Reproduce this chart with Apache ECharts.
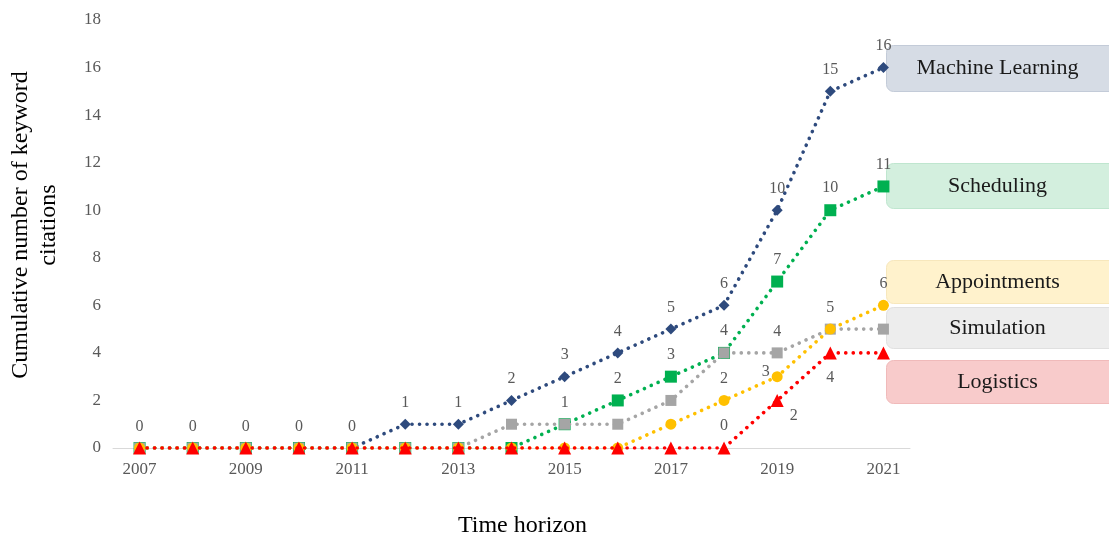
<!DOCTYPE html>
<html>
<head>
<meta charset="utf-8">
<script src="https://cdn.jsdelivr.net/npm/echarts@6/dist/echarts.min.js"></script>
<style>html,body{margin:0;padding:0;background:#fff}#c{width:1109px;height:540px}</style>
</head>
<body>
<div id="c"></div>
<script>
const years = ['2007','2008','2009','2010','2011','2012','2013','2014','2015','2016','2017','2018','2019','2020','2021'];
const machineLearning = [0,0,0,0,0,1,1,2,3,4,5,6,10,15,16];
const scheduling      = [0,0,0,0,0,0,0,0,1,2,3,4,7,10,11];
const simulation      = [0,0,0,0,0,0,0,1,1,1,2,4,4,5,5];
const appointments    = [0,0,0,0,0,0,0,0,0,0,1,2,3,5,6];
const logistics       = [0,0,0,0,0,0,0,0,0,0,0,0,2,4,4];
const seriesNames = ['Machine Learning','Scheduling','Appointments','Simulation','Logistics'];

const serif = '"Liberation Serif","DejaVu Serif",serif';
const labelBase = {fontFamily: serif, fontSize: 16, color: '#595959', distance: 8};

// which points carry a value label, and where it sits
function withLabels(values, rules) {
  return values.map((v, i) => {
    const r = rules[i];
    if (!r) return {value: v, label: {show: false}};
    return {value: v, label: Object.assign({show: true}, labelBase, r)};
  });
}
function above() { return {position: 'top'}; }

const mlRules = {}; for (let i = 0; i < 15; i++) mlRules[i] = above();
const schRules = {9: above(), 10: above(), 11: above(), 12: above(), 13: above(), 14: above()};
const simRules = {8: above(), 12: above()};
const appRules = {11: above(), 12: {position: 'left', distance: 2, offset: [0, -5]}, 13: above(), 14: above()};
const logRules = {11: above(), 12: {position: 'right', distance: 6, offset: [0, 15]}, 13: {position: 'bottom', distance: 10}};

function dotted(color) {
  return {color: color, width: 3.6, type: [0.1, 7.4], cap: 'round'};
}

const chart = echarts.init(document.getElementById('c'));
chart.setOption({
  animation: false,
  backgroundColor: '#fff',
  grid: {left: 113, top: 20, width: 797, bottom: 92, outerBoundsMode: 'none', containLabel: false},
  xAxis: {
    type: 'category', data: years, boundaryGap: true,
    name: 'Time horizon', nameLocation: 'middle', nameGap: 66,
    nameTextStyle: {fontFamily: serif, fontSize: 24, color: '#000', padding: [0, 0, 0, 22]},
    axisLine: {lineStyle: {color: '#D9D9D9', width: 1}},
    axisTick: {show: false},
    axisLabel: {interval: 1, fontFamily: serif, fontSize: 17, color: '#595959', margin: 13}
  },
  yAxis: {
    type: 'value', min: 0, max: 18, interval: 2,
    name: 'Cumulative number of keyword\ncitations', nameLocation: 'middle', nameGap: 50,
    nameTextStyle: {fontFamily: serif, fontSize: 24, color: '#000', lineHeight: 28, padding: [0, 0, 0, 18]},
    axisLine: {show: false}, axisTick: {show: false},
    splitLine: {show: false},
    axisLabel: {fontFamily: serif, fontSize: 17, color: '#595959', margin: 12}
  },
  series: [
    {name: seriesNames[0], type: 'line', data: withLabels(machineLearning, mlRules),
     symbol: 'diamond', symbolSize: 11, lineStyle: dotted('#2E4A7D'), itemStyle: {color: '#2E4A7D'}, z: 2},
    {name: seriesNames[1], type: 'line', data: withLabels(scheduling, schRules),
     symbol: 'rect', symbolSize: 12, lineStyle: dotted('#00B050'), itemStyle: {color: '#00B050'}, z: 3},
    {name: seriesNames[3], type: 'line', data: withLabels(simulation, simRules),
     symbol: 'rect', symbolSize: 11, lineStyle: dotted('#A5A5A5'), itemStyle: {color: '#A5A5A5'}, z: 4},
    {name: seriesNames[2], type: 'line', data: withLabels(appointments, appRules),
     symbol: 'circle', symbolSize: 11, lineStyle: dotted('#FFC000'), itemStyle: {color: '#FFC000'}, z: 5},
    {name: seriesNames[4], type: 'line', data: withLabels(logistics, logRules),
     symbol: 'triangle', symbolSize: 13, lineStyle: dotted('#FF0000'), itemStyle: {color: '#FF0000'}, z: 6}
  ],
  graphic: [
    {y0: 45, y1: 91, fill: '#D6DCE5', stroke: '#C3CBD8', text: seriesNames[0]},
    {y0: 163, y1: 208, fill: '#D3EFDE', stroke: '#BFE6CF', text: seriesNames[1]},
    {y0: 260, y1: 303, fill: '#FFF2CC', stroke: '#F7E7BC', text: seriesNames[2]},
    {y0: 307, y1: 348, fill: '#EDEDED', stroke: '#E0E0E0', text: seriesNames[3]},
    {y0: 360, y1: 403, fill: '#F8CBCB', stroke: '#F0BABA', text: seriesNames[4]}
  ].map(b => ({
    type: 'group', left: 886, top: b.y0,
    children: [
      {type: 'rect', shape: {x: 0, y: 0, width: 230, height: b.y1 - b.y0, r: 7},
       style: {fill: b.fill, stroke: b.stroke, lineWidth: 1}},
      {type: 'text', x: 111, y: (b.y1 - b.y0) / 2,
       style: {text: b.text, fontFamily: serif, fontSize: 22, fill: '#1a1a1a', align: 'center', verticalAlign: 'middle'}}
    ]
  }))
});
</script>
</body>
</html>
